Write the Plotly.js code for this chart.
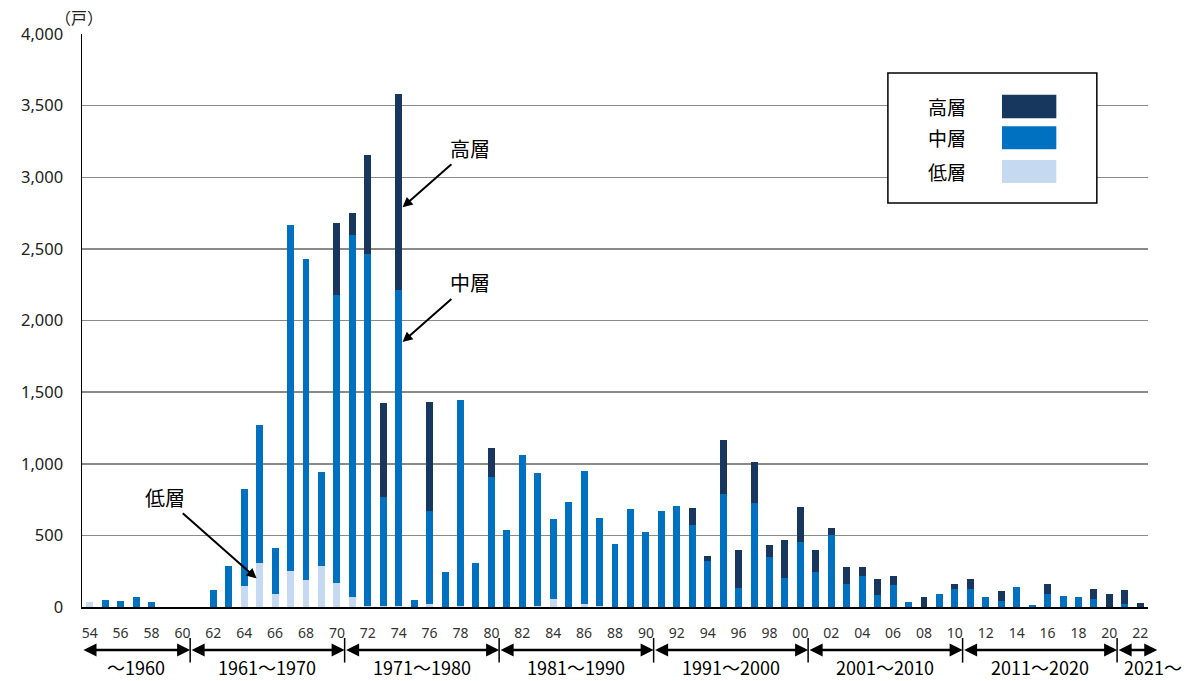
<!DOCTYPE html>
<html>
<head>
<meta charset="utf-8">
<script src="https://cdn.plot.ly/plotly-3.0.1.min.js"></script>
<style>
  html, body { margin: 0; padding: 0; background: #ffffff; }
  #chart { width: 1198px; height: 681px; }
</style>
</head>
<body>
<div id="chart"></div>
<script>
// ---- data (households by year) ----
const years = ['1954','1955','1956','1957','1958','1959','1960','1961','1962','1963',
  '1964','1965','1966','1967','1968','1969','1970','1971','1972','1973',
  '1974','1975','1976','1977','1978','1979','1980','1981','1982','1983',
  '1984','1985','1986','1987','1988','1989','1990','1991','1992','1993',
  '1994','1995','1996','1997','1998','1999','2000','2001','2002','2003',
  '2004','2005','2006','2007','2008','2009','2010','2011','2012','2013',
  '2014','2015','2016','2017','2018','2019','2020','2021','2022'];

const lowRise = [35,0,0,0,0,0,0,0,0,0,
  145,308,92,248,190,285,165,72,10,5,
  10,0,19,0,5,0,0,0,0,7,
  58,0,19,5,0,0,0,0,0,0,
  0,0,0,0,0,0,0,0,0,0,
  0,0,0,0,0,0,0,0,0,0,
  0,0,0,0,0,0,0,0,0];

const midRise = [0,50,42,68,38,0,0,0,118,287,
  678,962,320,2422,2240,655,2015,2524,2455,762,
  2205,46,651,241,1443,306,909,540,1058,927,
  554,733,929,614,437,682,527,670,706,572,
  322,792,132,725,352,204,454,244,503,164,
  218,84,157,35,0,89,127,127,68,40,
  138,14,92,80,68,54,0,21,0];

const highRise = [0,0,0,0,0,0,0,0,0,0,
  0,0,0,0,0,0,498,153,692,660,
  1363,0,764,0,0,0,202,0,0,0,
  0,0,0,0,0,0,0,0,0,120,
  37,377,264,289,83,264,245,154,46,118,
  59,113,59,0,68,0,33,70,0,73,
  0,0,72,0,0,73,94,99,28];

const tickYears = ['1954','1956','1958','1960','1962','1964','1966','1968','1970','1972',
  '1974','1976','1978','1980','1982','1984','1986','1988','1990','1992',
  '1994','1996','1998','2000','2002','2004','2006','2008','2010','2012',
  '2014','2016','2018','2020','2022'];
const tickText = ['54','56','58','60','62','64','66','68','70','72',
  '74','76','78','80','82','84','86','88','90','92',
  '94','96','98','00','02','04','06','08','10','12',
  '14','16','18','20','22'];

const seriesNames = ['低層','中層','高層'];
const decadeLabels = ['～1960','1961～1970','1971～1980','1981～1990','1991～2000','2001～2010','2011～2020','2021～'];
const decadeBounds = [-0.5, 6.5, 16.5, 26.5, 36.5, 46.5, 56.5, 66.5, 69.1];

// ---- styling ----
const colLow = '#C5D9F1', colMid = '#0070C0', colHigh = '#17375E';
const jp = '"Noto Sans CJK JP", "Noto Sans", sans-serif';
const num = '"Noto Sans", "DejaVu Sans", sans-serif';
const margin = {l: 82, r: 50, t: 34, b: 74};
const plotW = 1198 - margin.l - margin.r;
const nCat = years.length;

function mkTrace(name, vals, color) {
  return {type: 'bar', name: name, x: years, y: vals,
    marker: {color: color, line: {width: 0}}, hoverinfo: 'x+y+name'};
}
const traces = [
  mkTrace(seriesNames[0], lowRise, colLow),
  mkTrace(seriesNames[1], midRise, colMid),
  mkTrace(seriesNames[2], highRise, colHigh)
];

const toPaperX = b => (b + 0.5) / nCat;

const annotations = [];
const shapes = [];

// unit label
annotations.push({xref: 'paper', yref: 'paper', x: -0.003, y: 1.029, text: '（戸）',
  showarrow: false, font: {family: jp, size: 16, color: '#222'}, xanchor: 'center', yanchor: 'middle'});

// decade arrows, separators and labels
const arrowY = -0.075;
for (let i = 0; i < decadeLabels.length; i++) {
  const b0 = decadeBounds[i], b1 = decadeBounds[i + 1];
  const lenPx = (b1 - b0) / nCat * plotW;
  annotations.push({xref: 'paper', yref: 'paper', x: toPaperX(b1), y: arrowY,
    ax: -lenPx, ay: 0, axref: 'pixel', ayref: 'pixel', text: '', showarrow: true,
    arrowside: 'end+start', arrowhead: 2, startarrowhead: 2, arrowsize: 1, startarrowsize: 1,
    arrowwidth: 2.6, arrowcolor: '#000'});
  const cx = (i === decadeLabels.length - 1) ? toPaperX(68.8) : toPaperX((b0 + b1) / 2);
  annotations.push({xref: 'paper', yref: 'paper', x: cx, y: -0.104, text: decadeLabels[i],
    showarrow: false, xanchor: 'center', yanchor: 'middle',
    font: {family: jp, size: 18, color: '#000'}});
}
for (let i = 1; i < decadeBounds.length - 1; i++) {
  const px = toPaperX(decadeBounds[i]);
  shapes.push({type: 'line', xref: 'paper', yref: 'paper', x0: px, x1: px, y0: -0.054, y1: -0.097,
    line: {color: '#000', width: 1.5}});
}

// callouts
const callFont = {family: jp, size: 20, color: '#000'};
annotations.push({xref: 'x', yref: 'y', x: 20.25, y: 2790, ax: 67, ay: -59, text: '高層',
  showarrow: true, arrowhead: 2, arrowsize: 1, arrowwidth: 2, arrowcolor: '#000', font: callFont});
annotations.push({xref: 'x', yref: 'y', x: 20.25, y: 1850, ax: 67, ay: -59, text: '中層',
  showarrow: true, arrowhead: 2, arrowsize: 1, arrowwidth: 2, arrowcolor: '#000', font: callFont});
annotations.push({xref: 'x', yref: 'y', x: 10.8, y: 200, ax: -92, ay: -81, text: '低層',
  showarrow: true, arrowhead: 2, arrowsize: 1, arrowwidth: 2, arrowcolor: '#000', font: callFont});

// custom legend box (text left, swatch right)
shapes.push({type: 'rect', xref: 'paper', yref: 'paper', x0: 0.756, x1: 0.952, y0: 0.705, y1: 0.932,
  line: {color: '#000', width: 1.5}, fillcolor: '#fff', layer: 'above'});
const legRows = [
  {name: seriesNames[2], color: colHigh, y0: 0.853, y1: 0.894},
  {name: seriesNames[1], color: colMid, y0: 0.799, y1: 0.839},
  {name: seriesNames[0], color: colLow, y0: 0.740, y1: 0.780}
];
legRows.forEach(r => {
  shapes.push({type: 'rect', xref: 'paper', yref: 'paper', x0: 0.863, x1: 0.914, y0: r.y0, y1: r.y1,
    line: {width: 0}, fillcolor: r.color, layer: 'above'});
  annotations.push({xref: 'paper', yref: 'paper', x: 0.811, y: (r.y0 + r.y1) / 2, text: r.name,
    showarrow: false, xanchor: 'center', yanchor: 'middle', font: {family: jp, size: 19, color: '#000'}});
});

const layout = {
  width: 1198, height: 681,
  margin: margin,
  paper_bgcolor: '#fff', plot_bgcolor: '#fff',
  barmode: 'stack', bargap: 0.55,
  showlegend: false,
  xaxis: {type: 'category', tickvals: tickYears, ticktext: tickText, ticks: '',
    tickfont: {family: num, size: 14, color: '#333'}, ticklabelstandoff: 12,
    showgrid: false, showline: true, linecolor: '#000', linewidth: 2, zeroline: false,
    range: [-0.5, 68.5], fixedrange: true},
  yaxis: {range: [0, 4000], dtick: 500, tickformat: ',', ticks: '',
    tickfont: {family: num, size: 16.5, color: '#222'}, ticklabelstandoff: 14,
    showgrid: true, gridcolor: '#8a8a8a', gridwidth: 1.5,
    showline: true, linecolor: '#000', linewidth: 1.5, zeroline: false, fixedrange: true},
  annotations: annotations,
  shapes: shapes
};

Plotly.newPlot('chart', traces, layout, {displayModeBar: false, staticPlot: true});
</script>
</body>
</html>
